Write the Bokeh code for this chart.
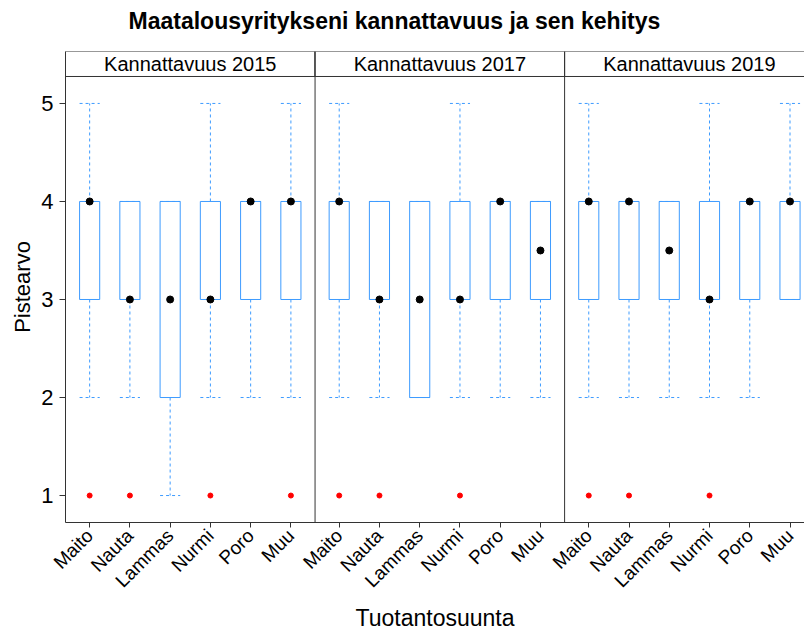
import math
from bokeh.plotting import figure
from bokeh.models import Range1d, FixedTicker, ColumnDataSource, Title
from bokeh.embed import file_html
from bokeh.resources import INLINE
from bokeh.core.properties import value

# ---------------- data ----------------
categories = ["Maito", "Nauta", "Lammas", "Nurmi", "Poro", "Muu"]
panels = ["Kannattavuus 2015", "Kannattavuus 2017", "Kannattavuus 2019"]

q1_2015 = [3, 3, 2, 3, 3, 3]
q3_2015 = [4, 4, 4, 4, 4, 4]
med_2015 = [4, 3, 3, 3, 4, 4]
lo_2015 = [2, 2, 1, 2, 2, 2]
hi_2015 = [5, 4, 4, 5, 4, 5]
out_cat_2015 = ["Maito", "Nauta", "Nurmi", "Muu"]
out_val_2015 = [1, 1, 1, 1]

q1_2017 = [3, 3, 2, 3, 3, 3]
q3_2017 = [4, 4, 4, 4, 4, 4]
med_2017 = [4, 3, 3, 3, 4, 3.5]
lo_2017 = [2, 2, 2, 2, 2, 2]
hi_2017 = [5, 4, 4, 5, 4, 4]
out_cat_2017 = ["Maito", "Nauta", "Nurmi"]
out_val_2017 = [1, 1, 1]

q1_2019 = [3, 3, 3, 3, 3, 3]
q3_2019 = [4, 4, 4, 4, 4, 4]
med_2019 = [4, 4, 3.5, 3, 4, 4]
lo_2019 = [2, 2, 2, 2, 2, 3]
hi_2019 = [5, 4, 4, 5, 4, 5]
out_cat_2019 = ["Maito", "Nauta", "Nurmi"]
out_val_2019 = [1, 1, 1]

y_ticks = [1, 2, 3, 4, 5]

stats = [
    (q1_2015, q3_2015, med_2015, lo_2015, hi_2015, out_cat_2015, out_val_2015),
    (q1_2017, q3_2017, med_2017, lo_2017, hi_2017, out_cat_2017, out_val_2017),
    (q1_2019, q3_2019, med_2019, lo_2019, hi_2019, out_cat_2019, out_val_2019),
]

# ---------------- layout constants ----------------
PANEL_W = 6.2
HALF = 0.25
Y0, Y1 = 0.725, 5.53
STRIP_LO = 5.275
FONT = "Liberation Sans"
BLUE = "#3d9bff"
FRAME = "#333333"


def pos(p, k):
    return round(p * PANEL_W + 0.6 + k, 2)


p = figure(width=804, height=634, output_backend="svg", toolbar_location=None,
           x_range=Range1d(0, 18.36), y_range=Range1d(Y0, Y1),
           min_border_left=65, min_border_right=0, min_border_top=50,
           min_border_bottom=112, background_fill_color="white",
           border_fill_color="white", outline_line_color=None, title=None)

p.xgrid.visible = False
p.ygrid.visible = False

# boxes / whiskers
xs, q1s, q3s, meds, los, his = [], [], [], [], [], []
oxs, oys = [], []
for pi, (q1, q3, med, lo, hi, oc, ov) in enumerate(stats):
    for k in range(len(categories)):
        xs.append(pos(pi, k))
        q1s.append(q1[k]); q3s.append(q3[k]); meds.append(med[k])
        los.append(lo[k]); his.append(hi[k])
    for c, v in zip(oc, ov):
        oxs.append(pos(pi, categories.index(c)))
        oys.append(v)

src = ColumnDataSource(dict(x=xs, q1=q1s, q3=q3s, med=meds, lo=los, hi=his,
                            l=[x - HALF for x in xs], r=[x + HALF for x in xs]))

p.segment(x0="x", y0="q3", x1="x", y1="hi", source=src, line_color=BLUE,
          line_dash="3 3", line_width=1)
p.segment(x0="x", y0="q1", x1="x", y1="lo", source=src, line_color=BLUE,
          line_dash="3 3", line_width=1)
p.quad(left="l", right="r", bottom="q1", top="q3", source=src,
       fill_color="white", line_color=BLUE, line_width=1)
p.segment(x0="l", y0="hi", x1="r", y1="hi", source=src, line_color=BLUE,
          line_dash="3 3", line_width=1)
p.segment(x0="l", y0="lo", x1="r", y1="lo", source=src, line_color=BLUE,
          line_dash="3 3", line_width=1)
p.scatter(x="x", y="med", source=src, size=7, color="black")
p.scatter(x=oxs, y=oys, size=5, color="#ff0000")

# strips and panel frames
lefts = [i * PANEL_W for i in range(len(panels))]
rights = [(i + 1) * PANEL_W for i in range(len(panels))]
p.quad(left=lefts, right=rights, bottom=STRIP_LO, top=Y1, fill_color="white",
       line_color=FRAME, line_width=1)
p.segment(x0=rights[:-1], y0=[Y0] * (len(panels) - 1), x1=rights[:-1],
          y1=[Y1] * (len(panels) - 1), line_color=FRAME, line_width=1)
p.text(x=[(i + 0.5) * PANEL_W for i in range(len(panels))],
       y=[(STRIP_LO + Y1) / 2] * len(panels), text=panels,
       text_align="center", text_baseline="middle", text_font=value(FONT),
       text_font_size="20px", text_color="black")

# axes
ticks = xs
p.xaxis.ticker = FixedTicker(ticks=ticks)
p.xaxis.major_label_overrides = {x: categories[i % len(categories)] for i, x in enumerate(ticks)}
p.xaxis.major_label_orientation = math.pi / 4
p.xaxis.major_label_text_font = FONT
p.xaxis.major_label_text_font_size = "19px"
p.xaxis.major_label_text_color = "black"
p.xaxis.major_tick_out = 5
p.xaxis.major_tick_in = 0
p.xaxis.axis_line_color = FRAME
p.xaxis.major_tick_line_color = FRAME
p.xaxis.axis_label = "Tuotantosuunta"
p.xaxis.axis_label_text_font = FONT
p.xaxis.axis_label_text_font_size = "23px"
p.xaxis.axis_label_text_font_style = "normal"
p.xaxis.axis_label_text_color = "black"
p.xaxis.axis_label_standoff = 3

p.yaxis.ticker = FixedTicker(ticks=y_ticks)
p.yaxis.major_label_text_font = FONT
p.yaxis.major_label_text_font_size = "22px"
p.yaxis.major_label_text_color = "black"
p.yaxis.major_tick_out = 6
p.yaxis.major_tick_in = 0
p.yaxis.axis_line_color = FRAME
p.yaxis.major_tick_line_color = FRAME
p.yaxis.major_label_standoff = 6
p.yaxis.axis_label = "Pistearvo"
p.yaxis.axis_label_text_font = FONT
p.yaxis.axis_label_text_font_size = "22px"
p.yaxis.axis_label_text_font_style = "normal"
p.yaxis.axis_label_text_color = "black"
p.yaxis.axis_label_standoff = 3

# spacer (closest to frame) then the main title above it
p.add_layout(Title(text=" ", text_font_size="1px", standoff=10), "above")
p.add_layout(Title(text="Maatalousyritykseni kannattavuus ja sen kehitys",
                   align="left", offset=63, standoff=10,
                   text_font=FONT, text_font_size="23px",
                   text_font_style="bold", text_color="black"), "above")

open("out.html", "w").write(file_html(p, INLINE))
